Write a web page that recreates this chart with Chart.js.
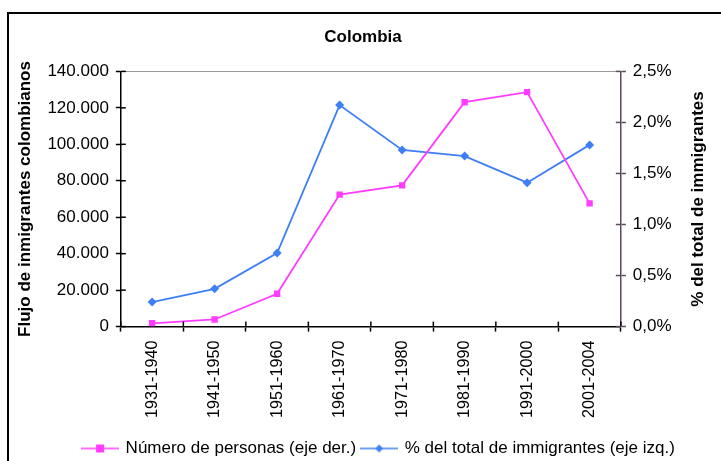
<!DOCTYPE html>
<html>
<head>
<meta charset="utf-8">
<script src="https://cdn.jsdelivr.net/npm/chart.js@4"></script>
<style>
  body { margin: 0; background: #fff; overflow: hidden; }
  #frame { position: absolute; left: 7px; top: 12px; width: 800px; height: 600px; border: 2px solid #000; }
  #wrap { position: absolute; left: 0; top: 0; width: 721px; height: 461px; }
</style>
</head>
<body>
<div id="frame"></div>
<div id="wrap"><canvas id="chart" width="721" height="461"></canvas></div>
<script>
  const periods = ['1931-1940', '1941-1950', '1951-1960', '1961-1970', '1971-1980', '1981-1990', '1991-2000', '2001-2004'];
  const personas = [1800, 3900, 18000, 72400, 77500, 123100, 128600, 67600];
  const porcentaje = [0.24, 0.37, 0.72, 2.17, 1.73, 1.67, 1.41, 1.78];
  const leftTicks = [0, 20000, 40000, 60000, 80000, 100000, 120000, 140000];
  const rightTicks = [0, 0.5, 1, 1.5, 2, 2.5];

  const magenta = '#ff3cff';
  const blue = '#3f7ff5';
  const font = 'Liberation Sans, Arial, sans-serif';
  const rightTitle = '% del total de immigrantes';

  // small line+marker image for the legend
  function legendIcon(color, style) {
    const c = document.createElement('canvas');
    c.width = 38; c.height = 12;
    const g = c.getContext('2d');
    g.strokeStyle = color; g.lineWidth = 1.5;
    g.beginPath(); g.moveTo(0, 6); g.lineTo(38, 6); g.stroke();
    g.fillStyle = color;
    if (style === 'rect') {
      g.fillRect(15, 2, 8, 8);
    } else {
      g.beginPath(); g.moveTo(19, 2); g.lineTo(23, 6); g.lineTo(19, 10); g.lineTo(15, 6); g.closePath(); g.fill();
    }
    return c;
  }

  // ticks crossing the axis lines, right title read bottom-up, legend nudged right
  const extras = {
    id: 'extras',
    afterLayout(chart) {
      chart.legend.left += 16;
      chart.legend.right += 16;
    },
    afterDatasetsDraw(chart) {
      const ctx = chart.ctx, a = chart.chartArea;
      ctx.save();
      ctx.lineWidth = 1.5;
      ctx.strokeStyle = '#000';
      chart.scales.y.ticks.forEach(t => {
        const py = chart.scales.y.getPixelForValue(t.value);
        ctx.beginPath(); ctx.moveTo(a.left, py); ctx.lineTo(a.left + 5, py); ctx.stroke();
      });
      const n = periods.length;
      for (let i = 0; i <= n; i++) {
        const px = a.left + i * (a.right - a.left) / n;
        ctx.beginPath(); ctx.moveTo(px, a.bottom); ctx.lineTo(px, a.bottom - 5); ctx.stroke();
      }
      ctx.strokeStyle = '#5a4a5a';
      chart.scales.y1.ticks.forEach(t => {
        const py = chart.scales.y1.getPixelForValue(t.value);
        ctx.beginPath(); ctx.moveTo(a.right, py); ctx.lineTo(a.right - 5, py); ctx.stroke();
      });
      ctx.restore();
    },
    afterDraw(chart) {
      const ctx = chart.ctx, a = chart.chartArea, s = chart.scales.y1;
      ctx.save();
      ctx.translate(s.right - 13, (a.top + a.bottom) / 2);
      ctx.rotate(-Math.PI / 2);
      ctx.font = 'bold 17px ' + font;
      ctx.fillStyle = '#000';
      ctx.textAlign = 'center';
      ctx.textBaseline = 'middle';
      ctx.fillText(rightTitle, 0, 0);
      ctx.restore();
    }
  };

  new Chart(document.getElementById('chart'), {
    type: 'line',
    data: {
      labels: periods,
      datasets: [{
        label: 'Número de personas (eje der.)',
        data: personas,
        yAxisID: 'y',
        borderColor: magenta,
        backgroundColor: magenta,
        borderWidth: 1.8,
        pointStyle: 'rect',
        pointRadius: 4.5,
        pointBorderWidth: 0,
        tension: 0
      }, {
        label: '% del total de immigrantes (eje izq.)',
        data: porcentaje,
        yAxisID: 'y1',
        borderColor: blue,
        backgroundColor: blue,
        borderWidth: 1.8,
        pointStyle: 'rectRot',
        pointRadius: 4.5,
        pointBorderWidth: 0,
        tension: 0
      }]
    },
    options: {
      responsive: false,
      animation: false,
      layout: { padding: { left: 15, right: 10, top: 27, bottom: -6 } },
      plugins: {
        title: {
          display: true,
          text: 'Colombia',
          color: '#000',
          font: { family: font, size: 17, weight: 'bold' },
          padding: { top: 0, bottom: 24 }
        },
        legend: {
          position: 'bottom',
          labels: {
            color: '#000',
            font: { family: font, size: 17 },
            usePointStyle: true,
            pointStyleWidth: 34,
            padding: 6,
            generateLabels(chart) {
              return chart.data.datasets.map((ds, i) => ({
                text: ds.label,
                pointStyle: legendIcon(ds.borderColor, ds.pointStyle),
                fillStyle: ds.borderColor,
                strokeStyle: ds.borderColor,
                lineWidth: 0,
                datasetIndex: i
              }));
            }
          }
        },
        tooltip: { enabled: false }
      },
      scales: {
        x: {
          offset: true,
          afterFit(scale) { scale.height += 7; },
          grid: { offset: true, drawOnChartArea: false, tickLength: 5, tickColor: '#000', tickWidth: 1.5 },
          border: { color: '#000', width: 1.5 },
          ticks: { color: '#000', font: { family: font, size: 16.2 }, maxRotation: 90, minRotation: 90, padding: 9 }
        },
        y: {
          position: 'left',
          min: 0,
          max: 140000,
          afterBuildTicks(scale) { scale.ticks = leftTicks.map(v => ({ value: v })); },
          grid: {
            color: c => (c.tick && c.tick.value === 140000) ? '#9a9a9a' : 'transparent',
            tickColor: '#000',
            tickLength: 5,
            tickWidth: 1.5
          },
          border: { color: '#000', width: 1.5 },
          ticks: {
            color: '#000',
            font: { family: font, size: 17 },
            padding: 7,
            callback: v => v.toLocaleString('de-DE')
          },
          title: {
            display: true,
            text: 'Flujo de inmigrantes colombianos',
            color: '#000',
            font: { family: font, size: 17, weight: 'bold' },
            padding: { top: 0, bottom: 5 }
          }
        },
        y1: {
          position: 'right',
          min: 0,
          max: 2.5,
          afterBuildTicks(scale) { scale.ticks = rightTicks.map(v => ({ value: v })); },
          grid: { drawOnChartArea: false, tickColor: '#5a4a5a', tickLength: 5, tickWidth: 1.5 },
          border: { color: '#5a4a5a', width: 1.5 },
          ticks: {
            color: '#000',
            font: { family: font, size: 17 },
            padding: 7,
            callback: v => v.toFixed(1).replace('.', ',') + '%'
          },
          title: {
            display: true,
            text: rightTitle,
            color: 'rgba(0,0,0,0)',
            font: { family: font, size: 17, weight: 'bold' },
            padding: { top: 12, bottom: 0 }
          }
        }
      }
    },
    plugins: [extras]
  });
</script>
</body>
</html>
